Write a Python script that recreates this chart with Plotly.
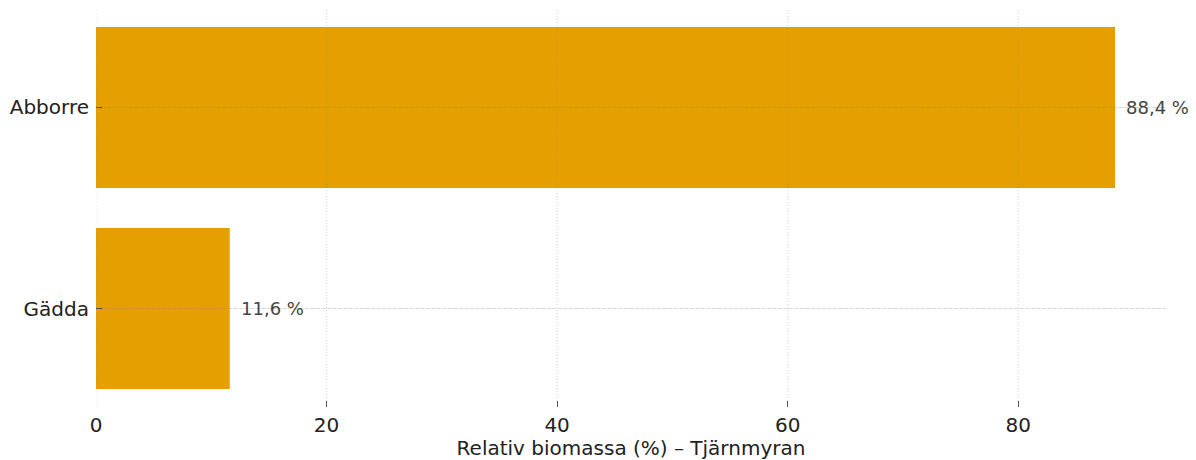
import plotly.graph_objects as go

categories = ["Gädda", "Abborre"]
values = [11.6, 88.4]
value_labels = ["11,6 %", "88,4 %"]
x_ticks = [0, 20, 40, 60, 80]
x_title = "Relativ biomassa (%) – Tjärnmyran"

BAR_COLOR = "#E69F00"
FONT = "DejaVu Sans"

fig = go.Figure()
fig.add_trace(go.Bar(
    y=categories,
    x=values,
    orientation="h",
    width=0.8,
    marker=dict(color=BAR_COLOR, line=dict(width=0)),
    hoverinfo="skip",
))

x_max = max(values) * 1.05

shapes = []
for t in x_ticks:
    shapes.append(dict(type="line", xref="x", yref="paper", x0=t, x1=t, y0=0, y1=1,
                       layer="above", line=dict(color="rgba(128,128,128,0.35)", width=1, dash="1px,2px")))
for c in categories:
    shapes.append(dict(type="line", xref="paper", yref="y", x0=0, x1=1, y0=c, y1=c,
                       layer="above", line=dict(color="rgba(128,128,128,0.32)", width=1, dash="4px,1.5px")))

annotations = []
for c, v, lab in zip(categories, values, value_labels):
    annotations.append(dict(x=v, y=c, xref="x", yref="y", text=lab, showarrow=False,
                            xanchor="left", yanchor="middle", xshift=9,
                            font=dict(family=FONT, size=18, color="#444444")))

fig.update_layout(
    width=1196, height=460,
    margin=dict(l=96, r=30, t=9, b=53, pad=0),
    paper_bgcolor="white", plot_bgcolor="white",
    showlegend=False,
    font=dict(family=FONT, size=20, color="#222222"),
    shapes=shapes,
    annotations=annotations,
    bargap=0.2,
)
fig.update_xaxes(
    range=[0, x_max],
    tickvals=x_ticks,
    ticktext=[str(t) for t in x_ticks],
    ticks="inside", ticklen=6, tickwidth=1, tickcolor="#555555",
    showgrid=False, zeroline=False, showline=False,
    tickfont=dict(family=FONT, size=20, color="#222222"),
    title=dict(text=x_title, font=dict(family=FONT, size=20, color="#222222"), standoff=2),
    ticklabelstandoff=4,
    automargin=False,
)
fig.update_yaxes(
    range=[-0.49, 1.49],
    categoryorder="array", categoryarray=categories,
    ticks="inside", ticklen=6, tickwidth=1, tickcolor="#444444",
    showgrid=False, zeroline=False, showline=False,
    tickfont=dict(family=FONT, size=20, color="#222222"),
    ticklabelstandoff=6,
    automargin=False,
)

fig.write_html("out.html", config={"displayModeBar": False},
               post_script="document.body.style.margin='0';")
